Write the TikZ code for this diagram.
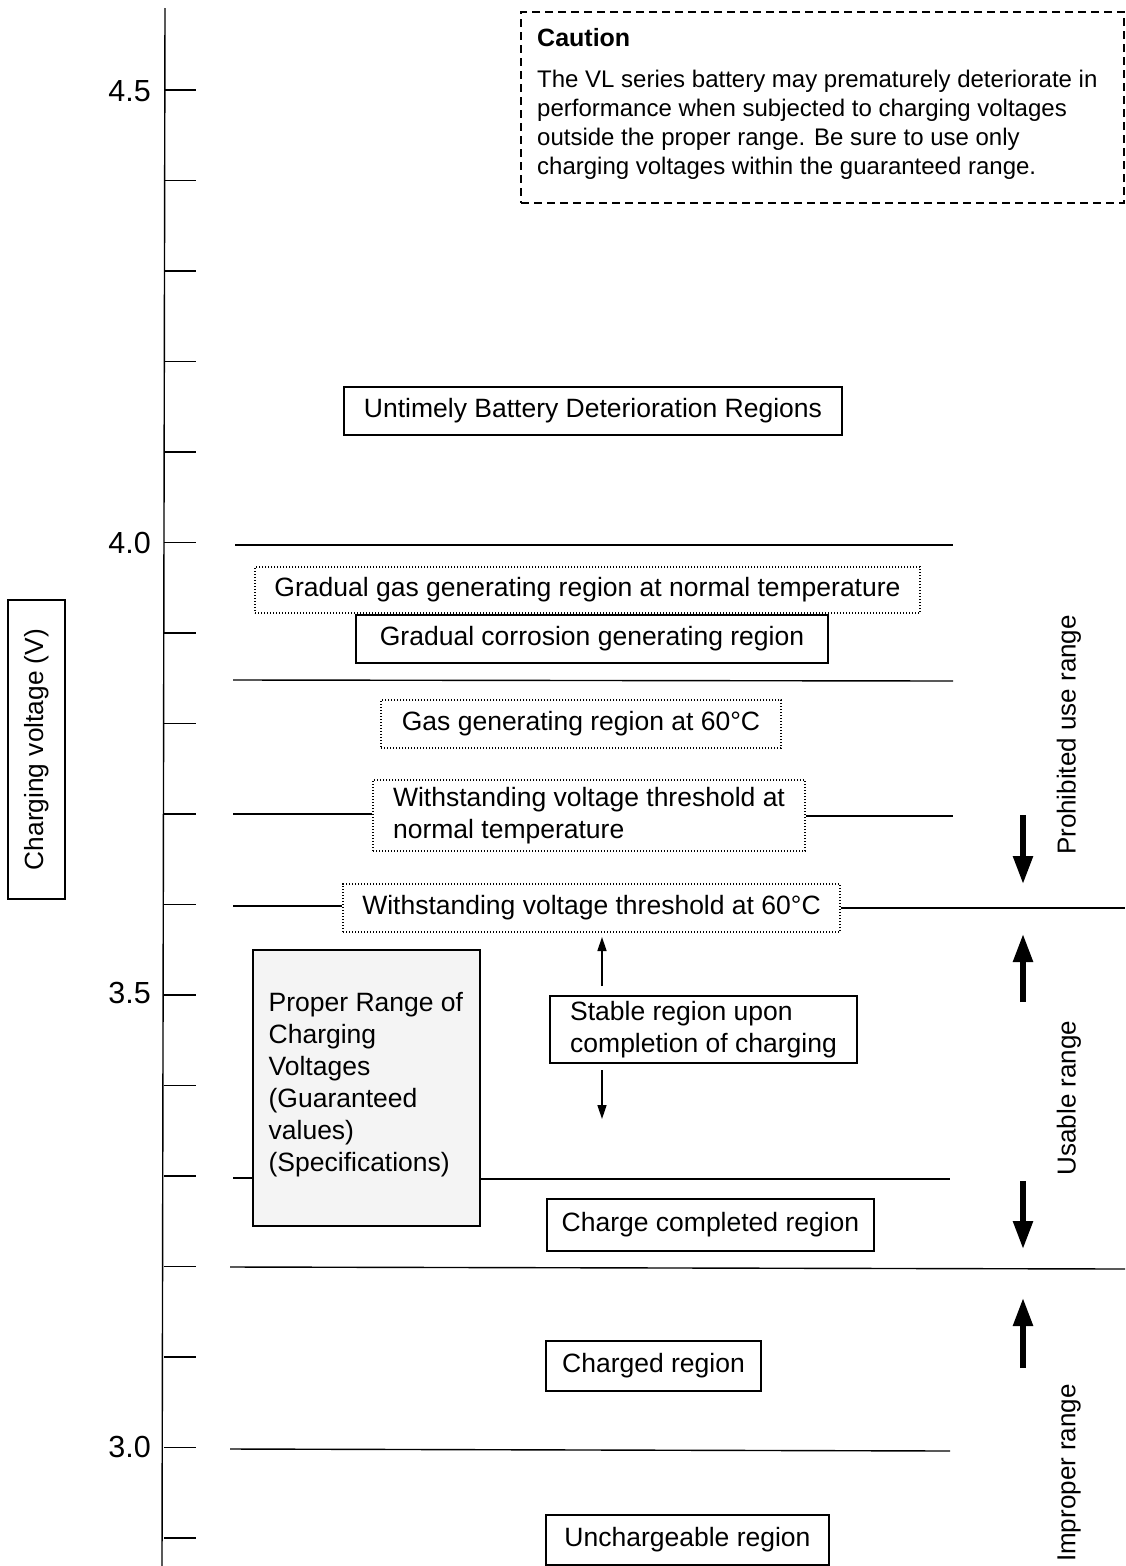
\documentclass[tikz,border=0pt]{standalone}
\usepackage{fontspec}
\setmainfont{Liberation Sans}
\usetikzlibrary{arrows.meta}
\tikzset{
  lbl/.style={font=\fontsize{26}{31}\selectfont, inner sep=0pt},
  rbox/.style={draw, line width=1.3pt, font=\fontsize{26.5}{32}\selectfont, inner sep=0pt},
  dbox/.style={rbox, dash pattern=on 1.4pt off 1.6pt},
  level/.style={line width=1.4pt},
  tickmark/.style={line width=1.4pt},
  smallarrow/.style={line width=1.6pt, -{Triangle[width=9pt,length=14pt]}},
  bigarrow/.style={line width=5.5pt, -{Triangle[width=19pt,length=28pt]}},
  ticklbl/.style={font=\fontsize{30.5}{34}\selectfont, inner sep=0pt, anchor=east},
}
\begin{document}
\begin{tikzpicture}[x=1pt,y=-1pt]
\useasboundingbox (0,0) rectangle (1125,1566);
% axis
\coordinate (axtop) at (165,8);
\coordinate (axbot) at (162,1566);
\draw[tickmark] (axtop) -- (axbot);
\foreach \i in {0,...,16} {
  \pgfmathsetmacro{\yy}{90+\i*90.5}
  \draw[tickmark] (164,\yy) -- (196,\yy);
}
\node[ticklbl] (t45) at (151,91) {4.5};
\node[ticklbl] (t40) at (151,543) {4.0};
\node[ticklbl] (t35) at (151,993) {3.5};
\node[ticklbl] (t30) at (151,1447) {3.0};

% y-axis label
\node[rbox, font=\fontsize{26.3}{31}\selectfont, rotate=90, minimum width=299, minimum height=57] (ylab) at (36.5,749.5) {Charging voltage (V)};

% caution box
\node[draw, line width=1.3pt, dash pattern=on 8pt off 5pt, minimum width=603, minimum height=191, inner sep=0pt] (caution) at (822.5,107.5) {};
\node[font=\bfseries\fontsize{25}{30}\selectfont, inner sep=0pt, anchor=base west] (ctitle) at (537,46) {Caution};
\node[font=\fontsize{24}{29}\selectfont, inner sep=0pt, anchor=north west, align=left] (cbody) at (537,70)
 {The VL series battery may prematurely deteriorate in\\performance when subjected to charging voltages\\outside the proper range. Be sure to use only\\charging voltages within the guaranteed range.};

% region boxes
\node[rbox, minimum width=498, minimum height=48] (untimely) at (593,411) {Untimely Battery Deterioration Regions};
\node[dbox, minimum width=665, minimum height=46] (gasnorm) at (587.5,590) {Gradual gas generating region at normal temperature};
\node[rbox, minimum width=472, minimum height=48] (corr) at (592,639) {Gradual corrosion generating region};
\node[dbox, minimum width=400, minimum height=48] (gas60) at (581,724) {Gas generating region at 60°C};
\node[dbox, minimum width=432, minimum height=71, align=left] (wnorm) at (589,815.5) {Withstanding voltage threshold at\\normal temperature};
\node[dbox, minimum width=497, minimum height=48] (w60) at (591.5,908) {Withstanding voltage threshold at 60°C};
\node[rbox, fill=gray!9, minimum width=227, minimum height=276] (proper) at (366.5,1088) {};
\node[rbox, draw=none, anchor=west, align=left] (propertext) at (268,1085)
 {Proper Range of\\Charging\\Voltages\\(Guaranteed\\values)\\(Specifications)};
\node[rbox, minimum width=307, minimum height=67, align=left] (stable) at (703.5,1029.5) {Stable region upon\\completion of charging};
\node[rbox, minimum width=327, minimum height=52] (complete) at (710.5,1225) {Charge completed region};
\node[rbox, minimum width=215, minimum height=50] (charged) at (653.5,1366) {Charged region};
\node[rbox, minimum width=283, minimum height=50] (unch) at (687.5,1540) {Unchargeable region};

% level lines
\coordinate (l40a) at (235,545);  \coordinate (l40b) at (953,545);
\draw[level] (l40a) -- (l40b);
\coordinate (l38a) at (233,680);  \coordinate (l38b) at (953,681);
\draw[level] (l38a) -- (l38b);
\coordinate (l37a) at (233,814);  \coordinate (l37b) at (953,816);
\draw[level] (l37a) -- (wnorm.west |- l37a);
\draw[level] (wnorm.east |- l37b) -- (l37b);
\coordinate (l36a) at (233,906);  \coordinate (l36b) at (1125,908);
\draw[level] (l36a) -- (w60.west |- l36a);
\draw[level] (w60.east |- l36b) -- (l36b);
\coordinate (l33a) at (233,1178); \coordinate (l33b) at (950,1179);
\draw[level] (l33a) -- (proper.west |- l33a);
\draw[level] (proper.east |- l33b) -- (l33b);
\coordinate (l32a) at (230,1267); \coordinate (l32b) at (1125,1269);
\draw[level] (l32a) -- (l32b);
\coordinate (l30a) at (230,1449); \coordinate (l30b) at (950,1451);
\draw[level] (l30a) -- (l30b);

% small arrows around stable region
\coordinate (sau) at (602,986);
\coordinate (sad) at (602,1070);
\draw[smallarrow] (sau) -- (602,937);
\draw[smallarrow] (sad) -- (602,1119);

% big arrows
\draw[bigarrow] (1023,815) -- (1023,884);
\draw[bigarrow] (1023,1002) -- (1023,934);
\draw[bigarrow] (1023,1181) -- (1023,1249);
\draw[bigarrow] (1023,1368) -- (1023,1298);

% right labels
\node[lbl, rotate=90] (prohib) at (1069,735) {Prohibited use range};
\node[lbl, rotate=90] (usable) at (1069,1098) {Usable range};
\node[lbl, rotate=90] (improper) at (1069,1473) {Improper range};
\end{tikzpicture}
\end{document}
